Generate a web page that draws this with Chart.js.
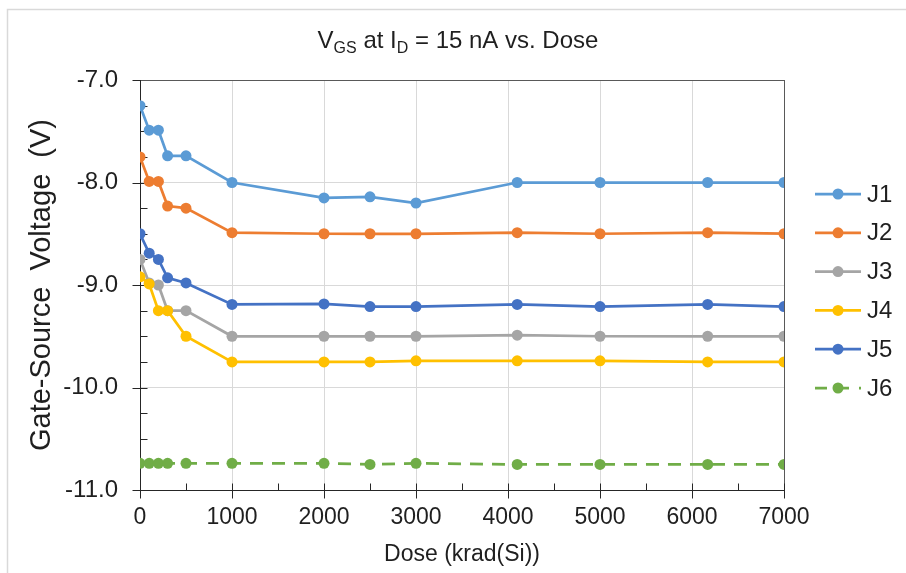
<!DOCTYPE html>
<html>
<head>
<meta charset="utf-8">
<script src="https://cdn.jsdelivr.net/npm/chart.js@4"></script>
<style>
  html, body { margin: 0; padding: 0; background: #fff; }
  #wrap { width: 906px; height: 573px; position: relative; }
</style>
</head>
<body>
<div id="wrap"><canvas id="chart"></canvas></div>
<script>
// dose points (krad(Si)), shared by every device
const dose = [0, 100, 200, 300, 500, 1000, 2000, 2500, 3000, 4100, 5000, 6170, 7000];

// V_GS at I_D = 15 nA, per device
const j1 = [-7.25, -7.49, -7.49, -7.74, -7.74, -8.00, -8.15, -8.14, -8.20, -8.00, -8.00, -8.00, -8.00];
const j2 = [-7.75, -7.99, -7.99, -8.23, -8.25, -8.49, -8.50, -8.50, -8.50, -8.49, -8.50, -8.49, -8.50];
const j3 = [-8.75, -8.98, -9.00, -9.25, -9.25, -9.50, -9.50, -9.50, -9.50, -9.49, -9.50, -9.50, -9.50];
const j4 = [-8.92, -8.99, -9.25, -9.25, -9.50, -9.75, -9.75, -9.75, -9.74, -9.74, -9.74, -9.75, -9.75];
const j5 = [-8.50, -8.69, -8.75, -8.93, -8.98, -9.19, -9.185, -9.21, -9.21, -9.19, -9.21, -9.19, -9.21];
const j6 = [-10.74, -10.74, -10.74, -10.74, -10.74, -10.74, -10.74, -10.75, -10.74, -10.75, -10.75, -10.75, -10.75];

const names = ['J1', 'J2', 'J3', 'J4', 'J5', 'J6'];
const series = [j1, j2, j3, j4, j5, j6];
const colors = ['#5B9BD5', '#ED7D31', '#A5A5A5', '#FFC000', '#4472C4', '#70AD47'];
const dashes = [[], [], [], [], [], [13, 9]];

const FONT = '"Liberation Sans", Arial, sans-serif';
const TXT = '#1f1f1f';

const datasets = series.map((vals, i) => ({
    label: names[i],
    data: vals.map((v, k) => ({ x: dose[k], y: v })),
    showLine: true,
    borderColor: colors[i],
    backgroundColor: colors[i],
    borderWidth: 2.75,
    borderDash: dashes[i],
    pointRadius: 5.5,
    pointBorderWidth: 0,
    pointBackgroundColor: colors[i],
    order: series.length - i   // later series on top, like the original
}));

// frame, axes, tick marks, title with subscripts, legend
const decor = {
    id: 'decor',
    beforeDraw(chart) {
        const c = chart.ctx;
        c.save();
        c.fillStyle = '#fff';
        c.fillRect(0, 0, chart.width, chart.height);
        c.strokeStyle = '#d9d9d9';
        c.lineWidth = 1.5;
        c.strokeRect(7.5, 9.5, 1200, 1200);
        c.restore();
    },
    beforeDatasetsDraw(chart) {
        const c = chart.ctx;
        const a = chart.chartArea;
        const xs = chart.scales.x, ys = chart.scales.y;
        c.save();
        c.lineWidth = 1;
        c.strokeStyle = '#595959';
        c.strokeRect(Math.round(a.left) + 0.5, Math.round(a.top) + 0.5,
            Math.round(a.right - a.left), Math.round(a.bottom - a.top));
        c.strokeStyle = '#262626';
        c.beginPath();
        const L = Math.round(a.left) + 0.5, B = Math.round(a.bottom) + 0.5;
        c.moveTo(L, a.top); c.lineTo(L, B);
        c.moveTo(L, B); c.lineTo(a.right, B);
        // y ticks: majors cross, minors inside
        for (let v = -11; v <= -7.001 + 0.0001; v += 0.25) {
            const y = Math.round(ys.getPixelForValue(v)) + 0.5;
            const major = Math.abs(v - Math.round(v)) < 1e-6;
            c.moveTo(major ? L - 8 : L, y);
            c.lineTo(L + 7, y);
        }
        c.moveTo(L - 8, Math.round(ys.getPixelForValue(-7)) + 0.5);
        c.lineTo(L, Math.round(ys.getPixelForValue(-7)) + 0.5);
        // x ticks
        for (let v = 0; v <= 7000; v += 500) {
            const x = Math.round(xs.getPixelForValue(v)) + 0.5;
            const major = v % 1000 === 0;
            c.moveTo(x, B - 7);
            c.lineTo(x, major ? B + 8 : B);
        }
        c.stroke();
        c.restore();
    },
    afterDraw(chart) {
        const c = chart.ctx;
        c.save();
        // title: V_GS at I_D = 15 nA vs. Dose
        const size = 24, sub = 16;
        const parts = [
            { t: 'V', s: false }, { t: 'GS', s: true }, { t: ' at I', s: false },
            { t: 'D', s: true }, { t: ' = 15 nA vs. Dose', s: false }
        ];
        let w = 0;
        parts.forEach(p => {
            c.font = (p.s ? sub : size) + 'px ' + FONT;
            p.w = c.measureText(p.t).width;
            w += p.w;
        });
        let x = 458 - w / 2;
        const base = 48;
        c.fillStyle = TXT;
        c.textBaseline = 'alphabetic';
        c.textAlign = 'left';
        parts.forEach(p => {
            c.font = (p.s ? sub : size) + 'px ' + FONT;
            c.fillText(p.t, x, p.s ? base + 5 : base);
            x += p.w;
        });
        // legend
        c.font = '24px ' + FONT;
        c.textBaseline = 'middle';
        chart.data.datasets.forEach((ds, i) => {
            const y = 194 + i * 38.8;
            c.strokeStyle = ds.borderColor;
            c.lineWidth = ds.borderWidth;
            c.setLineDash(i === 5 ? [12, 10] : []);
            c.beginPath();
            c.moveTo(815, y); c.lineTo(861, y);
            c.stroke();
            c.setLineDash([]);
            c.fillStyle = ds.borderColor;
            c.beginPath();
            c.arc(838, y, 5.5, 0, Math.PI * 2);
            c.fill();
            c.fillStyle = TXT;
            c.fillText(ds.label, 867, y + 1);
        });
        c.restore();
    }
};

new Chart(document.getElementById('chart'), {
    type: 'scatter',
    data: { datasets },
    options: {
        responsive: true,
        maintainAspectRatio: false,
        animation: false,
        layout: { padding: { left: 0, right: 122, top: 80, bottom: 0 } },
        plugins: {
            legend: { display: false },
            tooltip: { enabled: false }
        },
        scales: {
            x: {
                type: 'linear', min: 0, max: 7000,
                afterFit: s => { s.height = 83; },
                ticks: { stepSize: 1000, padding: 14, color: TXT, font: { family: FONT, size: 23 },
                    callback: v => String(v) },
                grid: { color: '#d9d9d9', drawTicks: false },
                border: { display: false },
                title: { display: true, text: 'Dose (krad(Si))', color: TXT,
                    font: { family: FONT, size: 23 }, padding: { top: 0, bottom: 5 } }
            },
            y: {
                min: -11, max: -7,
                afterFit: s => { s.width = 140; },
                ticks: { stepSize: 1, padding: 22, color: TXT, font: { family: FONT, size: 24 },
                    callback: v => v.toFixed(1) },
                grid: { color: '#d9d9d9', drawTicks: false },
                border: { display: false },
                title: { display: true, text: 'Gate-Source  Voltage  (V)', color: TXT,
                    font: { family: FONT, size: 29 }, padding: { top: 25, bottom: 0 } }
            }
        }
    },
    plugins: [decor]
});
</script>
</body>
</html>
